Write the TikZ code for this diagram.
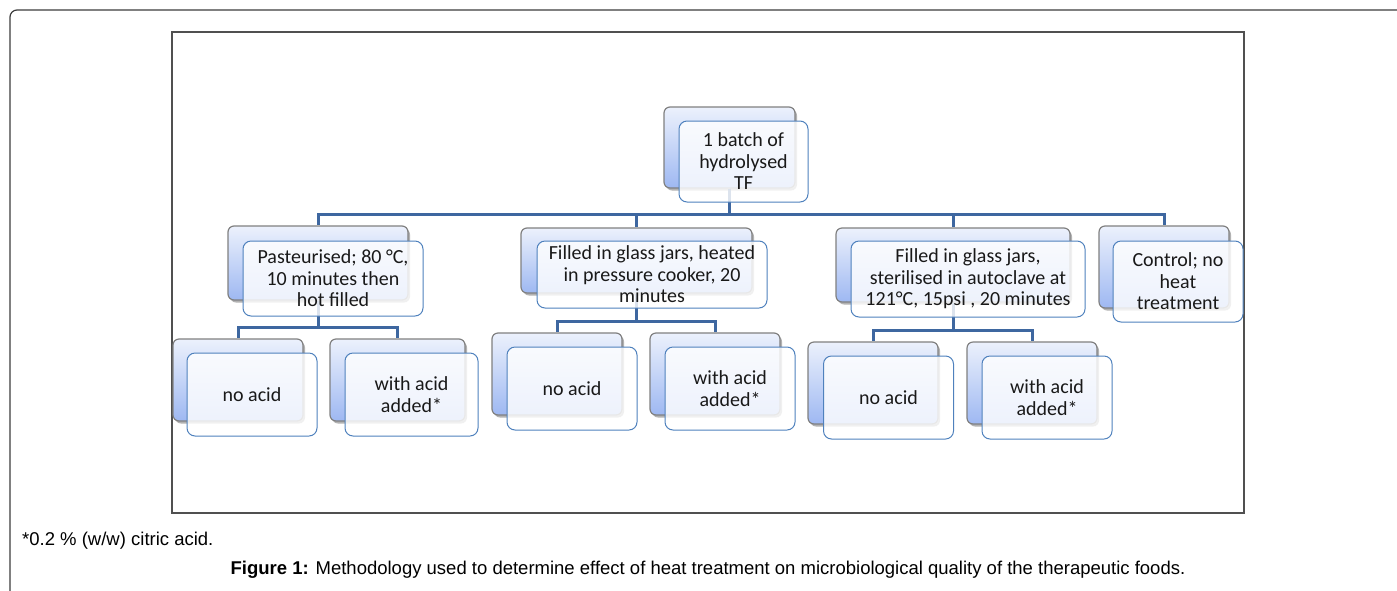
\documentclass[tikz,border=0pt]{standalone}
\usepackage{fontspec}
\setmainfont{Carlito}
\newfontfamily\arialf{Liberation Sans}
\usetikzlibrary{shadows}
\definecolor{connc}{RGB}{62,103,160}
\definecolor{frontc}{RGB}{79,129,189}
\definecolor{backc}{RGB}{128,128,128}
\definecolor{gtop}{RGB}{236,241,252}
\definecolor{gbot}{RGB}{158,184,242}
\definecolor{textc}{RGB}{25,25,25}
\definecolor{framec}{RGB}{60,60,60}
\begin{document}
\begin{tikzpicture}[x=1pt,y=-1pt,
  backbox/.style={draw=backc, line width=1.2pt, rounded corners=6pt,
    top color=gtop, bottom color=gbot, inner sep=0pt,
    minimum width=130pt, minimum height=82pt,
    drop shadow={shadow xshift=2pt, shadow yshift=-2.5pt, opacity=0.3, fill=black}},
  frontbox/.style={draw=frontc, line width=1pt, rounded corners=8pt,
    fill=white, fill opacity=0.82, text opacity=1, text=textc,
    font=\fontsize{20}{21.5}\selectfont, align=center, inner sep=0pt,
    minimum width=130pt, minimum height=82pt},
  connline/.style={draw=connc, line width=3pt},
  captext/.style={font=\arialf\fontsize{18.5}{21}\selectfont, text=black, inner sep=0pt}]
\useasboundingbox (0,0) rectangle (1397,590);
% frames
\draw[framec, line width=1.2pt, rounded corners=7pt] (10,592) -- (10,10) -- (1400,10);
\draw[framec!90!white, line width=1.2pt] (172,32) rectangle (1244,513);
% back boxes
\node[backbox, minimum width=131pt, minimum height=81pt] (topb) at (729.5,147.5) {};
\node[backbox, minimum width=180pt, minimum height=74pt] (Ab) at (318,263) {};
\node[backbox, minimum width=231pt, minimum height=65pt] (Bb) at (636.5,260.5) {};
\node[backbox, minimum width=234pt, minimum height=74pt] (Cb) at (953,265) {};
\node[backbox, minimum width=130pt, minimum height=82pt] (Db) at (1164,267) {};
\node[backbox] (A1b) at (238,380) {};
\node[backbox, minimum width=135pt] (A2b) at (397.5,380) {};
\node[backbox] (B1b) at (557,374) {};
\node[backbox] (B2b) at (715,374) {};
\node[backbox] (C1b) at (873,383) {};
\node[backbox] (C2b) at (1032,383) {};
% connectors
\coordinate (bus0) at (0,214);
\coordinate (busA) at (0,327);
\coordinate (busB) at (0,321);
\coordinate (busC) at (0,330);
\foreach \c in {Ab,Bb,Cb,Db}
  \draw[connline] (topb.south) |- (\c.north |- bus0) -- (\c.north);
\foreach \c in {A1b,A2b}
  \draw[connline] (Ab.south) |- (\c.north |- busA) -- (\c.north);
\foreach \c in {B1b,B2b}
  \draw[connline] (Bb.south) |- (\c.north |- busB) -- (\c.north);
\foreach \c in {C1b,C2b}
  \draw[connline] (Cb.south) |- (\c.north |- busC) -- (\c.north);
% front boxes
\node[frontbox, minimum width=129pt, minimum height=81pt] (top) at (743.5,161.5) {1 batch of\\hydrolysed\\TF};
\node[frontbox, minimum width=180pt, minimum height=75pt] (A) at (333,278.5) {Pasteurised; 80 °C,\\10 minutes then\\hot filled};
\node[frontbox, minimum width=230pt, minimum height=67pt] (B) at (652,274.5) {Filled in glass jars, heated\\in pressure cooker, 20\\minutes};
\node[frontbox, minimum width=234pt, minimum height=76pt] (C) at (968,279) {Filled in glass jars,\\sterilised in autoclave at\\121°C, 15psi , 20 minutes};
\node[frontbox, minimum width=130pt, minimum height=81pt] (D) at (1178,281.5) {Control; no\\heat\\treatment};
\node[frontbox, minimum height=83pt] (A1) at (252,394.5) {no acid};
\node[frontbox, minimum width=133pt, minimum height=83pt] (A2) at (411.5,394.5) {with acid\\added*};
\node[frontbox, minimum height=83pt] (B1) at (572,388.5) {no acid};
\node[frontbox, minimum height=83pt] (B2) at (730,388.5) {with acid\\added*};
\node[frontbox, minimum height=83pt] (C1) at (888.5,397.5) {no acid};
\node[frontbox, minimum height=83pt] (C2) at (1047,397.5) {with acid\\added*};
% captions
\node[captext, anchor=base west] (note) at (22,545) {*0.2 \% (w/w) citric acid.};
\node[captext, anchor=base] (cap) at (708,574) {\textbf{Figure 1:} Methodology used to determine effect of heat treatment on microbiological quality of the therapeutic foods.};
\end{tikzpicture}
\end{document}
